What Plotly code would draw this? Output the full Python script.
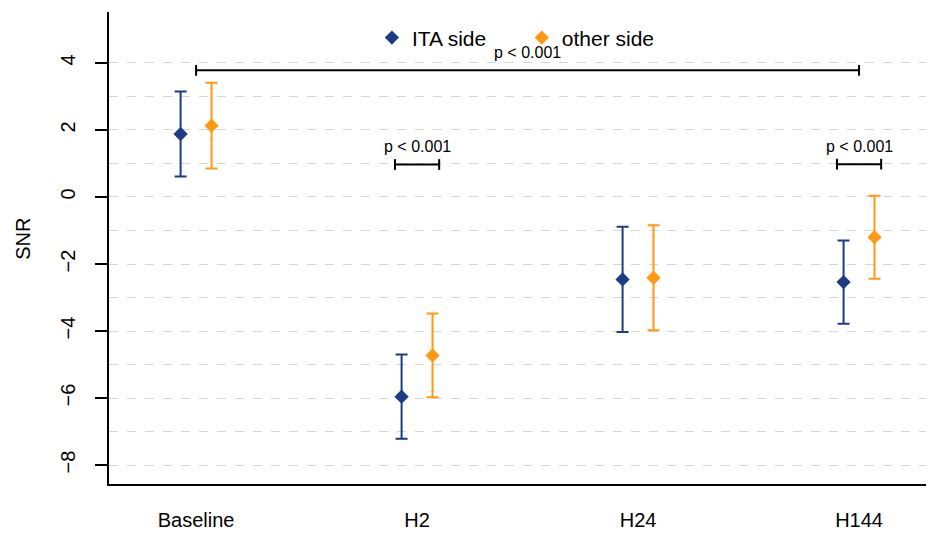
import plotly.graph_objects as go

categories = ["Baseline", "H2", "H24", "H144"]
ita_mean = [1.88, -5.96, -2.46, -2.54]
ita_err = [1.27, 1.26, 1.57, 1.24]
other_mean = [2.13, -4.73, -2.41, -1.20]
other_err = [1.28, 1.25, 1.57, 1.24]
y_ticks = [-8, -6, -4, -2, 0, 2, 4]
y_minor = [-7, -5, -3, -1, 1, 3]

BLUE = "#1c3c85"
ORANGE = "#ff9912"
FONT = "Liberation Sans, Arial, sans-serif"

pos = list(range(1, len(categories) + 1))
off = 0.07

fig = go.Figure()
fig.add_trace(go.Scatter(
    x=[p - off for p in pos], y=ita_mean, mode="markers", name="ITA side",
    marker=dict(symbol="diamond", size=11, color=BLUE),
    error_y=dict(type="data", array=ita_err, color=BLUE, thickness=2, width=6),
    legend="legend", showlegend=True,
))
fig.add_trace(go.Scatter(
    x=[p + off for p in pos], y=other_mean, mode="markers", name="other side",
    marker=dict(symbol="diamond", size=11, color=ORANGE),
    error_y=dict(type="data", array=other_err, color=ORANGE, thickness=2, width=6),
    legend="legend2", showlegend=True,
))

# significance brackets
def bracket(x0, x1, y, text, ty):
    fig.add_shape(type="line", x0=x0, x1=x1, y0=y, y1=y, line=dict(color="black", width=2))
    for xx in (x0, x1):
        fig.add_shape(type="line", x0=xx, x1=xx, y0=y - 0.16, y1=y + 0.16,
                      line=dict(color="black", width=2))
    fig.add_annotation(x=(x0 + x1) / 2, y=ty, text=text, showarrow=False,
                       font=dict(size=16, color="black", family=FONT), yanchor="middle")

bracket(1, 4, 3.78, "p < 0.001", 4.30)
bracket(2 - 0.1, 2 + 0.1, 0.97, "p < 0.001", 1.50)
bracket(4 - 0.1, 4 + 0.1, 0.98, "p < 0.001", 1.50)

fig.add_annotation(x=-0.106, y=0.52, xref="paper", yref="paper", text="SNR",
                   xanchor="center", yanchor="middle",
                   textangle=-90, showarrow=False, font=dict(size=20, color="black", family=FONT))

fig.update_layout(
    width=934, height=534,
    margin=dict(l=101, r=14, t=4, b=58, autoexpand=False),
    showlegend=True,
    plot_bgcolor="white", paper_bgcolor="white",
    font=dict(family=FONT, color="black"),
    legend=dict(orientation="h", x=0.321, y=0.945, xanchor="left", yanchor="middle",
                font=dict(size=21), bgcolor="rgba(0,0,0,0)"),
    legend2=dict(orientation="h", x=0.504, y=0.945, xanchor="left", yanchor="middle",
                 font=dict(size=21), bgcolor="rgba(0,0,0,0)"),
    xaxis=dict(range=[0.606, 4.312], tickmode="array", tickvals=pos, ticktext=categories,
               showgrid=False, zeroline=False, showline=True, linecolor="black", linewidth=2,
               ticks="", tickfont=dict(size=20), ticklabelstandoff=17, automargin=False),
    yaxis=dict(range=[-8.567, 5.522], tickmode="array", tickvals=y_ticks,
               ticks="outside", ticklen=12, tickwidth=2, tickcolor="black",
               tickangle=-90, tickfont=dict(size=20), ticklabelstandoff=12, automargin=False,
               showgrid=True, gridcolor="#d6d6d6", griddash="dash", gridwidth=1,
               zeroline=False, showline=True, linecolor="black", linewidth=2,
               minor=dict(tickmode="array", tickvals=y_minor, showgrid=True,
                          gridcolor="#d6d6d6", griddash="dash", gridwidth=1, ticks="")),
)

fig.write_html("out.html")
